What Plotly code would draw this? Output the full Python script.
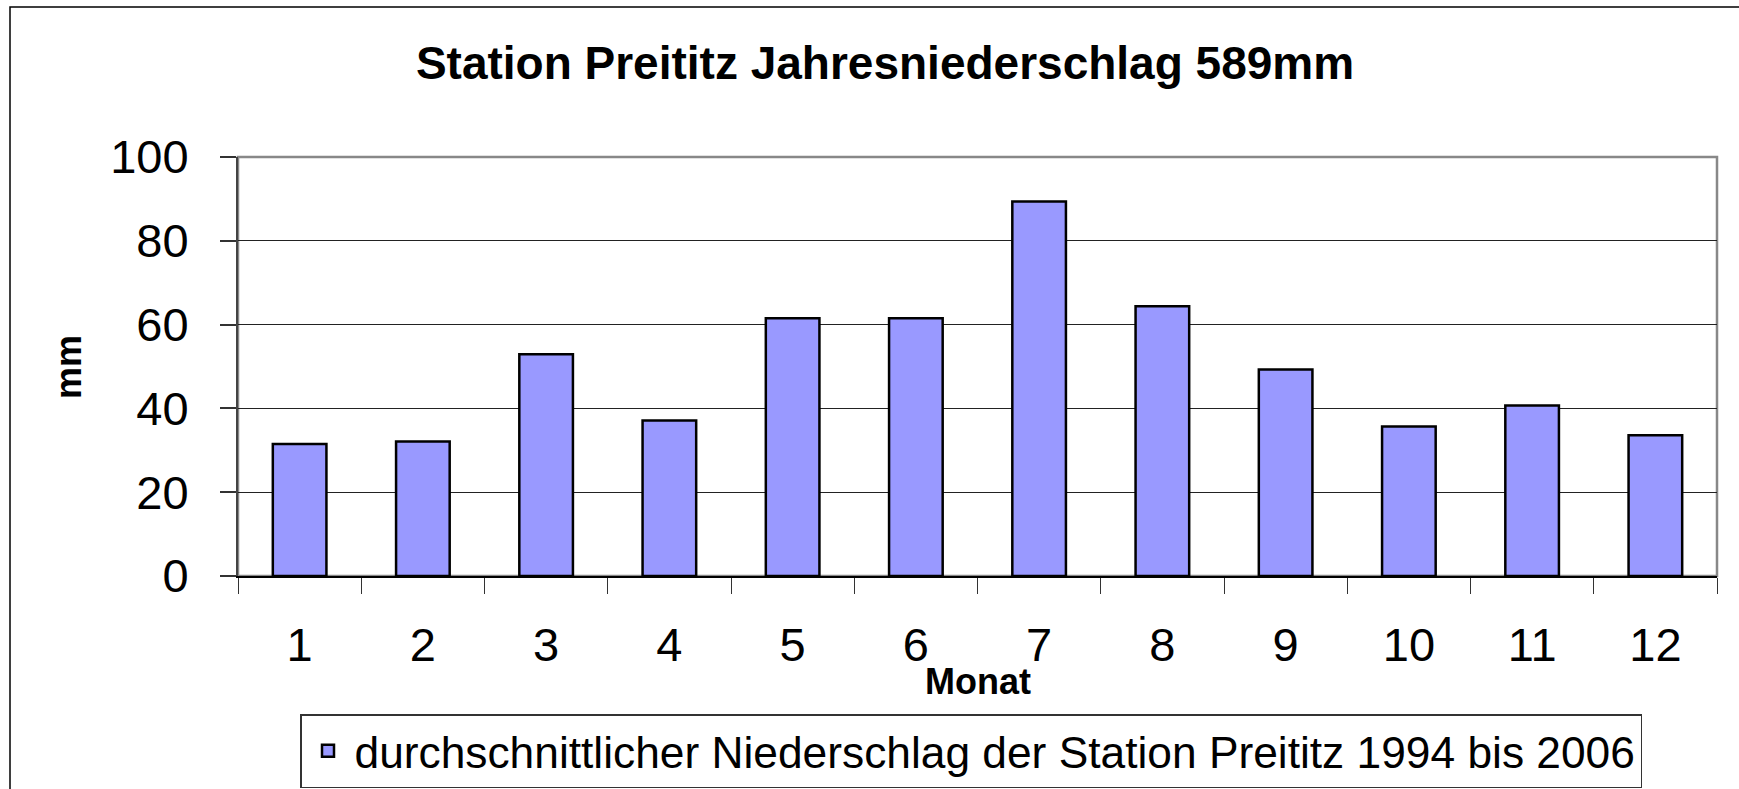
import plotly.graph_objects as go

# ---- data ----
months = ["1", "2", "3", "4", "5", "6", "7", "8", "9", "10", "11", "12"]
niederschlag = [31.5, 32.1, 52.9, 37.1, 61.5, 61.5, 89.4, 64.4, 49.3, 35.7, 40.7, 33.6]
series_name = "durchschnittlicher Niederschlag der Station Preititz 1994 bis 2006"
title_text = "Station Preititz Jahresniederschlag 589mm"
y_ticks = [0, 20, 40, 60, 80, 100]

W, H = 1739, 789
L, R, T, B = 238, 22, 157, 213
PW, PH = W - L - R, H - T - B

def px_x(p):
    return (p - L) / PW

def px_y(p):
    return (H - B - p) / PH

FONT = "Liberation Sans, Arial, sans-serif"

fig = go.Figure()
fig.add_trace(go.Bar(
    x=months, y=niederschlag, name=series_name,
    marker=dict(color="#9999FF", line=dict(color="black", width=2.5)),
    showlegend=True,
))

fig.update_layout(
    width=W, height=H,
    margin=dict(l=L, r=R, t=T, b=B, autoexpand=False),
    paper_bgcolor="white", plot_bgcolor="white",
    bargap=0.565,
    font=dict(family=FONT, color="black"),
    title=dict(text="<b>" + title_text + "</b>", font=dict(size=46, family=FONT, color="black"),
               x=885 / W, xref="container", xanchor="center",
               y=1 - 63 / H, yref="container", yanchor="middle"),
    showlegend=True,
    legend=dict(
        x=px_x(300), y=px_y(714), xanchor="left", yanchor="top",
        bordercolor="#333333", borderwidth=1.5, bgcolor="white",
        font=dict(size=44.3, family=FONT, color="black"),
        itemwidth=43,
    ),
)

fig.update_xaxes(
    type="category", tickson="boundaries", automargin=False,
    ticks="outside", ticklen=16, tickcolor="#333333", tickwidth=1.2,
    showline=True, linecolor="black", linewidth=2,
    showgrid=False,
    tickfont=dict(size=47, family=FONT, color="black"),
    ticklabelstandoff=27,
)
fig.update_yaxes(
    range=[0, 100], tickvals=y_ticks, automargin=False,
    ticks="outside", ticklen=16, tickcolor="#333333", tickwidth=1.5,
    showline=True, linecolor="#444444", linewidth=2,
    showgrid=True, gridcolor="#222222", gridwidth=1,
    tickfont=dict(size=47, family=FONT, color="black"),
    ticklabelstandoff=22,
    zeroline=False,
)

# plot area border (top/right gray)
fig.add_shape(type="rect", xref="paper", yref="paper", x0=0, x1=1, y0=0, y1=1,
              line=dict(color="#888888", width=2.5), layer="between")
# outer chart border (left and top edges visible; right/bottom fall outside the canvas)
fig.add_shape(type="rect", xref="paper", yref="paper",
              x0=px_x(10), x1=px_x(W + 300), y0=px_y(H + 300), y1=px_y(7),
              line=dict(color="black", width=1.5), layer="below")

# axis titles
fig.add_annotation(text="<b>Monat</b>", xref="paper", yref="paper",
                   x=px_x(978), y=px_y(681), xanchor="center", yanchor="middle",
                   showarrow=False, font=dict(size=36, family=FONT, color="black"))
fig.add_annotation(text="<b>mm</b>", xref="paper", yref="paper", textangle=-90,
                   x=px_x(68), y=px_y(367), xanchor="center", yanchor="middle",
                   showarrow=False, font=dict(size=36, family=FONT, color="black"))

fig.write_html(
    "out.html", config={"displayModeBar": False},
    post_script="document.body.style.margin='0';document.body.style.overflow='hidden';"
                "document.documentElement.style.overflow='hidden';",
)
